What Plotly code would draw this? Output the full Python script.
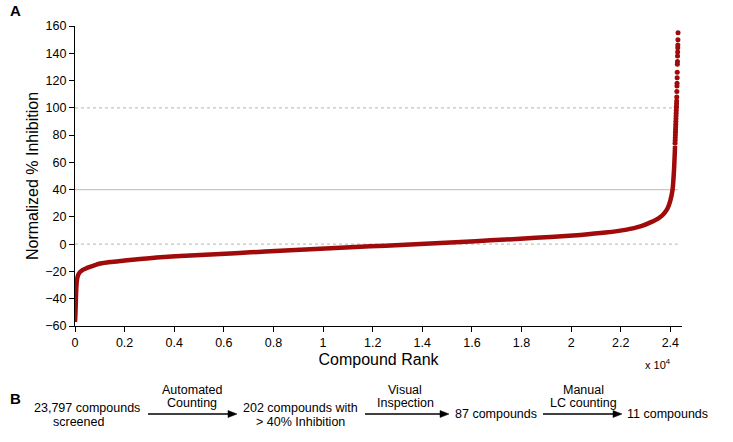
import plotly.graph_objects as go

# ---- data ----
curve_rank = [0, 15, 30, 50, 80, 130, 200, 300, 420, 540, 780, 1020, 1420,
              2000, 2630, 3440, 4650, 5860, 7070, 8280, 9490, 10700, 11900,
              13120, 14330, 15540, 16750, 17960, 19170, 20380, 21380, 22190,
              22790, 23200, 23520, 23720, 23880, 24000, 24090, 24150, 24190]
curve_value = [-57, -52, -44, -33, -26, -22.5, -20.5, -19, -18, -17, -15.5,
               -14.2, -13.1, -12.0, -10.8, -9.5, -8.3, -7.2, -6.0, -4.8, -3.7,
               -2.6, -1.6, -0.6, 0.5, 1.6, 2.8, 4.0, 5.3, 6.8, 8.5, 10.5, 13.0,
               16.0, 19.0, 22.0, 26.0, 32.0, 40.0, 55.0, 72.0]

top_rank = [24190, 24194, 24198, 24202, 24206, 24210, 24214, 24218, 24222,
            24226, 24230, 24234, 24238, 24242, 24246, 24250, 24254, 24258,
            24262, 24266, 24270, 24274, 24278, 24282, 24286, 24290, 24294,
            24298, 24302, 24306, 24310]
top_value = [74, 76, 78, 80, 82, 84, 86, 88, 90, 92, 94, 96, 98, 100, 101,
             103, 105, 108, 112, 116, 118, 122, 126, 132, 134, 138, 141, 144,
             146, 150, 155]

x_tickvals = [0, 2000, 4000, 6000, 8000, 10000, 12000, 14000, 16000, 18000,
              20000, 22000, 24000]
x_ticktext = ["0", "0.2", "0.4", "0.6", "0.8", "1", "1.2", "1.4", "1.6",
              "1.8", "2", "2.2", "2.4"]
y_tickvals = [-60, -40, -20, 0, 20, 40, 60, 80, 100, 120, 140, 160]

ref_dotted = [100, 0]
ref_solid = [40]

flow_nodes = [("23,797 compounds", 87, 408), ("screened", 78, 422),
              ("202 compounds with", 300, 408), ("> 40% Inhibition", 300, 422),
              ("87 compounds", 496, 414), ("11 compounds", 667, 414)]
flow_labels = [("Automated", 192, 390), ("Counting", 192, 403),
               ("Visual", 405, 390), ("Inspection", 405, 403),
               ("Manual", 583, 390), ("LC counting", 583, 403)]
flow_arrows = [(148, 237), (365, 449), (543, 622)]

RED = "#a00a0a"
FONT = "Liberation Sans, Arial, Helvetica, sans-serif"

W, H = 733, 442
ML, MR, MT, MB = 75, 51, 26, 116
PW, PH = W - ML - MR, H - MT - MB


def px(x):
    return (x - ML) / PW


def py(y):
    return (H - MB - y) / PH


fig = go.Figure()
fig.add_trace(go.Scatter(x=curve_rank, y=curve_value, mode="lines",
                         line=dict(color=RED, width=4.5, shape="spline", smoothing=0.6),
                         hoverinfo="skip", showlegend=False))
fig.add_trace(go.Scatter(x=top_rank, y=top_value, mode="markers",
                         marker=dict(color=RED, size=5), showlegend=False))

shapes = []
for v in ref_dotted:
    shapes.append(dict(type="line", xref="x", yref="y", x0=0, x1=24300, y0=v, y1=v,
                       line=dict(color="#c4c4c4", width=1.3, dash="dot"), layer="below"))
for v in ref_solid:
    shapes.append(dict(type="line", xref="x", yref="y", x0=0, x1=24300, y0=v, y1=v,
                       line=dict(color="#c8c8c8", width=1.2), layer="below"))

AY = 414
for x0, x1 in flow_arrows:
    shapes.append(dict(type="line", xref="paper", yref="paper",
                       x0=px(x0), x1=px(x1 - 6), y0=py(AY), y1=py(AY),
                       line=dict(color="black", width=1.3)))
    tri = "M {a},{b} L {c},{d} L {c},{e} Z".format(
        a=px(x1), b=py(AY), c=px(x1 - 9), d=py(AY - 3.5), e=py(AY + 3.5))
    shapes.append(dict(type="path", xref="paper", yref="paper", path=tri,
                       fillcolor="black", line=dict(color="black", width=0.5)))

ann = []
ann.append(dict(text="<b>A</b>", x=px(8), y=py(10), xref="paper", yref="paper",
                xanchor="left", yanchor="middle", showarrow=False,
                font=dict(size=15, family=FONT, color="black")))
ann.append(dict(text="<b>B</b>", x=px(8), y=py(398), xref="paper", yref="paper",
                xanchor="left", yanchor="middle", showarrow=False,
                font=dict(size=15, family=FONT, color="black")))
ann.append(dict(text="x 10<sup>4</sup>", x=px(673), y=py(364), xref="paper", yref="paper",
                xanchor="right", yanchor="middle", showarrow=False,
                font=dict(size=11, family=FONT, color="black")))
for t, x, y in flow_nodes + flow_labels:
    ann.append(dict(text=t, x=px(x), y=py(y), xref="paper", yref="paper",
                    xanchor="center", yanchor="middle", showarrow=False,
                    font=dict(size=12.5, family=FONT, color="black")))

fig.update_layout(
    width=W, height=H, margin=dict(l=ML, r=MR, t=MT, b=MB),
    paper_bgcolor="white", plot_bgcolor="white",
    font=dict(family=FONT, color="black"),
    shapes=shapes, annotations=ann,
    xaxis=dict(range=[0, 24470], tickvals=x_tickvals, ticktext=x_ticktext,
               showgrid=False, zeroline=False, showline=True, linecolor="black",
               linewidth=1.3, ticks="outside", ticklen=5, tickcolor="black",
               tickwidth=1.2, tickfont=dict(size=12.5),
               title=dict(text="Compound Rank", font=dict(size=16), standoff=4)),
    yaxis=dict(range=[-60, 160], tickvals=y_tickvals, showgrid=False,
               zeroline=False, showline=True, linecolor="black", linewidth=1.3,
               ticks="outside", ticklen=5, tickcolor="black", tickwidth=1.2,
               tickfont=dict(size=12.5),
               title=dict(text="Normalized % Inhibition", font=dict(size=16),
                          standoff=2)),
)

fig.write_html("out.html", config={"displayModeBar": False},
               post_script="document.body.style.margin='0';document.body.style.overflow='hidden';")
